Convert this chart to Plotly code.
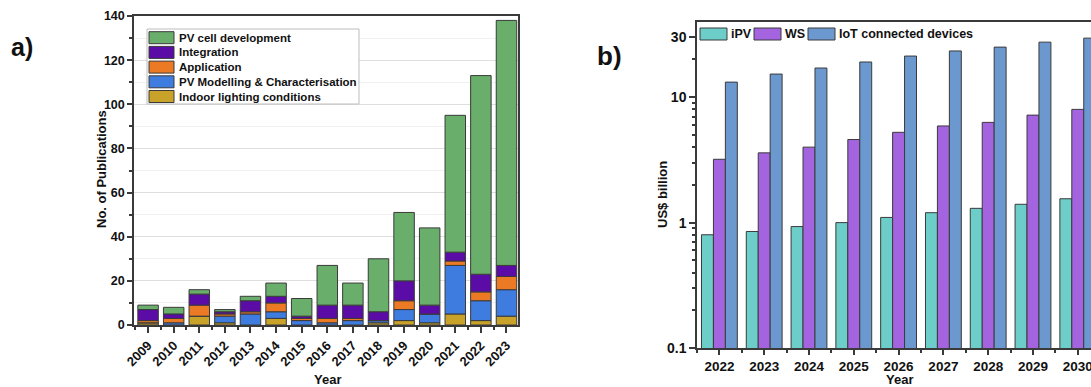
import numpy as np
import plotly.graph_objects as go

# ---- data: (a) publications per year, stacked by topic ----
years_a = ["2009", "2010", "2011", "2012", "2013", "2014", "2015", "2016",
           "2017", "2018", "2019", "2020", "2021", "2022", "2023"]
indoor_lighting = [1, 0, 4, 1, 0, 3, 0, 0, 0, 1, 2, 1, 5, 2, 4]
pv_modelling = [0, 1, 0, 3, 5, 3, 2, 1, 2, 1, 5, 4, 22, 9, 12]
application = [1, 2, 5, 1, 1, 4, 1, 2, 1, 0, 4, 0, 2, 4, 6]
integration = [5, 2, 5, 1, 5, 3, 1, 6, 6, 4, 9, 4, 4, 8, 5]
pv_cell_dev = [2, 3, 2, 1, 2, 6, 8, 18, 10, 24, 31, 35, 62, 90, 111]

# ---- data: (b) market size, US$ billion ----
years_b = ["2022", "2023", "2024", "2025", "2026", "2027", "2028", "2029", "2030"]
ipv = [0.8, 0.85, 0.93, 1.0, 1.1, 1.2, 1.3, 1.4, 1.55]
ws = [3.2, 3.6, 4.0, 4.6, 5.25, 5.9, 6.3, 7.2, 8.0]
iot = [13.2, 15.3, 17.1, 19.1, 21.3, 23.4, 25.1, 27.5, 29.6]

W, H = 1091, 387
FONT = "Arial, Liberation Sans, sans-serif"
EDGE = "#3a3a3a"


def fx(px):
    return px / W


def fy(py):
    return 1 - py / H


colors_a = {
    "PV cell development": "#6aae6c",
    "Integration": "#5b0ca6",
    "Application": "#ec7a24",
    "PV Modelling & Characterisation": "#3f7ce0",
    "Indoor lighting conditions": "#c9a22a",
}
colors_b = {"iPV": "#6dcdc9", "WS": "#a464e0", "IoT connected devices": "#6c98d0"}

fig = go.Figure()

# stacked bars for panel (a): bottom to top
stack_order = [
    ("Indoor lighting conditions", indoor_lighting),
    ("PV Modelling & Characterisation", pv_modelling),
    ("Application", application),
    ("Integration", integration),
    ("PV cell development", pv_cell_dev),
]
xa = np.arange(len(years_a))
base = np.zeros(len(years_a))
for name, vals in stack_order:
    vals = np.array(vals, dtype=float)
    fig.add_trace(go.Bar(
        x=xa, y=vals, base=base.copy(), name=name, offsetgroup="a",
        marker=dict(color=colors_a[name], line=dict(color=EDGE, width=1)),
        xaxis="x", yaxis="y", showlegend=False,
    ))
    base += vals

# grouped bars for panel (b)
xb = np.arange(len(years_b))
for name, vals in [("iPV", ipv), ("WS", ws), ("IoT connected devices", iot)]:
    fig.add_trace(go.Bar(
        x=xb, y=vals, name=name,
        marker=dict(color=colors_b[name], line=dict(color=EDGE, width=1)),
        xaxis="x2", yaxis="y2", showlegend=False,
    ))

bold = dict(family=FONT, color="#111111", weight="bold")

fig.update_layout(
    width=W, height=H,
    margin=dict(l=0, r=0, t=0, b=0),
    paper_bgcolor="white", plot_bgcolor="white",
    barmode="group", bargap=0.2, bargroupgap=0,
    font=dict(family=FONT, color="#111111"),
    xaxis=dict(
        domain=[fx(134), fx(518)], range=[-0.55, 14.45], automargin=False,
        tickmode="array", tickvals=list(xa), ticktext=years_a, tickangle=-45,
        tickfont=dict(size=13, **bold),
        showline=True, linecolor=EDGE, linewidth=1.5, mirror=True,
        ticks="outside", ticklen=6, tickwidth=1.5, tickcolor=EDGE,
        minor=dict(tick0=0.5, dtick=1, ticks="outside", ticklen=3, tickcolor=EDGE),
        showgrid=False, zeroline=False, anchor="y",
    ),
    yaxis=dict(
        domain=[fy(325), fy(16)], range=[0, 140], dtick=20, automargin=False,
        tickfont=dict(size=12.5, **bold),
        showline=True, linecolor=EDGE, linewidth=1.5, mirror=True,
        ticks="outside", ticklen=5, tickwidth=1.5, tickcolor=EDGE,
        showgrid=True, gridcolor="#dedede", gridwidth=1,
        minor=dict(dtick=10, ticks="outside", ticklen=3, tickcolor=EDGE,
                   showgrid=True, gridcolor="#f1f1f1"),
        zeroline=False, anchor="x",
    ),
    xaxis2=dict(
        domain=[fx(697), 1.0], range=[-0.5, 8.295], automargin=False,
        tickmode="array", tickvals=list(xb), ticktext=years_b,
        tickfont=dict(size=13.5, **bold), ticklabeloverflow="allow",
        showline=True, linecolor=EDGE, linewidth=1.5, mirror=True,
        ticks="outside", ticklen=5, tickwidth=1.5, tickcolor=EDGE,
        minor=dict(tick0=0.5, dtick=1, ticks="outside", ticklen=3, tickcolor=EDGE),
        showgrid=False, zeroline=False, anchor="y2",
    ),
    yaxis2=dict(
        domain=[fy(348), fy(22)], type="log", range=[-1, 1.6], automargin=False,
        tickmode="array", tickvals=[0.1, 1, 10, 30], ticktext=["0.1", "1", "10", "30"],
        tickfont=dict(size=14, **bold),
        showline=True, linecolor=EDGE, linewidth=1.5, mirror=False,
        ticks="outside", ticklen=6, tickwidth=1.5, tickcolor=EDGE,
        minor=dict(tickmode="array",
                   tickvals=[0.2, 0.3, 0.4, 0.5, 0.6, 0.7, 0.8, 0.9,
                             2, 3, 4, 5, 6, 7, 8, 9, 20],
                   ticks="outside", ticklen=3, tickcolor=EDGE),
        showgrid=False, zeroline=False, anchor="x2",
    ),
)

shapes = []
annotations = []


def text(px, py, s, size, angle=0, xanchor="center"):
    annotations.append(dict(
        x=fx(px), y=fy(py), xref="paper", yref="paper", text=s, showarrow=False,
        textangle=angle, xanchor=xanchor, yanchor="middle",
        font=dict(size=size, **bold),
    ))


def swatch(x0, y0, x1, y1, color):
    shapes.append(dict(
        type="rect", xref="paper", yref="paper", layer="above",
        x0=fx(x0), x1=fx(x1), y0=fy(y1), y1=fy(y0),
        fillcolor=color, line=dict(color=EDGE, width=1),
    ))


# legend key for panel (a)
shapes.append(dict(
    type="rect", xref="paper", yref="paper", layer="above",
    x0=fx(147), x1=fx(359), y0=fy(104), y1=fy(29),
    fillcolor="white", line=dict(color="#bdbdbd", width=1),
))
legend_a = ["PV cell development", "Integration", "Application",
            "PV Modelling & Characterisation", "Indoor lighting conditions"]
for i, name in enumerate(legend_a):
    cy = 37.7 + i * 14.7
    swatch(149, cy - 6, 174, cy + 6, colors_a[name])
    text(177, cy, name, 11.5, xanchor="left")

# legend key for panel (b)
for x0, name in [(700, "iPV"), (754, "WS"), (808, "IoT connected devices")]:
    swatch(x0, 28, x0 + 27, 40, colors_b[name])
    text(x0 + 29, 34, name, 12.5, xanchor="left")

# panel labels and axis titles
text(22, 47, "a)", 25)
text(609, 56, "b)", 26)
text(102, 169, "No. of Publications", 13, angle=-90)
text(327, 379, "Year", 13)
text(662, 195, "US$ billion", 13, angle=-90)
text(899, 379, "Year", 13)

fig.update_layout(shapes=shapes, annotations=annotations)
fig.write_html("out.html")
